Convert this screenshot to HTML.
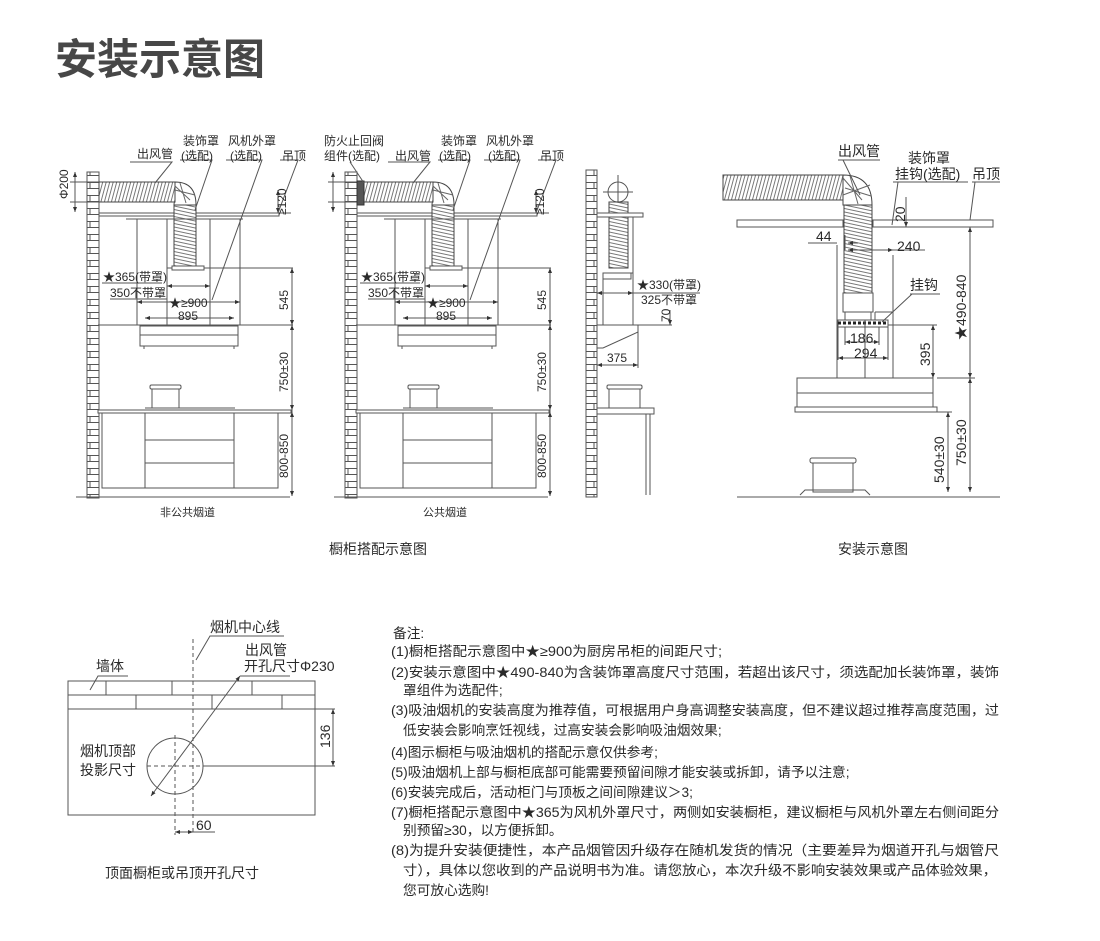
<!DOCTYPE html>
<html><head><meta charset="utf-8">
<style>
html,body{margin:0;padding:0;background:#fff;}
svg{display:block;}
text{font-family:"Liberation Sans","Noto Sans CJK SC",sans-serif;fill:#2a2a2a;}
</style></head>
<body>
<svg width="1100" height="941" viewBox="0 0 1100 941" xmlns="http://www.w3.org/2000/svg">
<defs>
<pattern id="rh" width="3.5" height="10" patternUnits="userSpaceOnUse" patternTransform="skewX(-15)">
<rect width="3.5" height="10" fill="#fff"/><line x1="1" y1="0" x2="1" y2="10" stroke="#666" stroke-width="0.9"/></pattern>
<pattern id="rv" width="10" height="3.5" patternUnits="userSpaceOnUse" patternTransform="skewY(12)">
<rect width="10" height="3.5" fill="#fff"/><line x1="0" y1="1" x2="10" y2="1" stroke="#666" stroke-width="0.9"/></pattern>
<pattern id="brick" width="12" height="13" patternUnits="userSpaceOnUse">
<rect width="12" height="13" fill="#fff"/><line x1="0" y1="0.5" x2="12" y2="0.5" stroke="#555"/><line x1="6" y1="0" x2="6" y2="6.5" stroke="#555"/><line x1="0" y1="6.5" x2="12" y2="6.5" stroke="#555"/></pattern>
<marker id="ar" markerWidth="6" markerHeight="6" refX="5" refY="3" orient="auto-start-reverse" markerUnits="userSpaceOnUse"><path d="M0,1 L5,3 L0,5 z" fill="#333"/></marker>

<g id="cab" fill="none" stroke="#555" stroke-width="1">
 <rect x="87" y="172" width="12" height="326" fill="url(#brick)" stroke="#555"/>
 <rect x="99" y="213" width="180" height="3" fill="#fff"/>
 <rect x="99" y="182" width="76" height="20" fill="url(#rh)" stroke="#444"/>
 <path d="M175,182 Q196,182 196,205 L174,205 Q174,202 175,202 Z" fill="#fff" stroke="#444"/>
 <path d="M175,186 L190,200 M180,183 L186,203 M175,190 L195,195" stroke="#666"/>
 <rect x="174" y="205" width="22" height="63" fill="url(#rv)" stroke="#444"/>
 <line x1="126" y1="219" x2="243" y2="219"/>
 <line x1="137" y1="219" x2="137" y2="325"/>
 <line x1="167" y1="219" x2="167" y2="268"/>
 <line x1="210" y1="219" x2="210" y2="268"/>
 <line x1="240" y1="219" x2="240" y2="325"/>
 <rect x="167" y="268" width="43" height="57" fill="#fff"/>
 <rect x="172" y="266" width="32" height="4" fill="#fff"/>
 <line x1="210" y1="268" x2="293" y2="268"/>
 <line x1="98" y1="325" x2="293" y2="325"/>
 <rect x="140" y="326" width="98" height="9" fill="#fff"/>
 <rect x="140" y="335" width="98" height="11"/>
 <line x1="144" y1="346" x2="144" y2="349"/><line x1="234" y1="346" x2="234" y2="349"/>
 <line x1="292" y1="268" x2="292" y2="496"/>
 <line x1="276" y1="213" x2="291" y2="213"/>
 <line x1="137" y1="302" x2="240" y2="302" marker-start="url(#ar)" marker-end="url(#ar)"/>
 <line x1="145" y1="318" x2="234" y2="318" marker-start="url(#ar)" marker-end="url(#ar)"/>
 <line x1="167" y1="286" x2="210" y2="286" marker-start="url(#ar)" marker-end="url(#ar)"/>
 <line x1="70" y1="182" x2="99" y2="182"/><line x1="70" y1="202" x2="99" y2="202"/>
 <line x1="75" y1="172" x2="75" y2="212" marker-start="url(#ar)" marker-end="url(#ar)"/>
 <line x1="278" y1="190" x2="278" y2="213" marker-start="url(#ar)" marker-end="url(#ar)"/>
 <line x1="292" y1="325" x2="292" y2="410" marker-start="url(#ar)" marker-end="url(#ar)"/>
 <line x1="292" y1="268" x2="292" y2="325" marker-start="url(#ar)" marker-end="url(#ar)"/>
 <line x1="292" y1="412" x2="292" y2="496" marker-start="url(#ar)" marker-end="url(#ar)"/>
 <rect x="152" y="388" width="27" height="20" fill="#fff"/>
 <rect x="150" y="385" width="31" height="4" rx="1.5" fill="#fff"/>
 <line x1="145" y1="408" x2="235" y2="408"/>
 <rect x="98" y="410" width="193" height="3" fill="#fff"/>
 <rect x="102" y="413" width="176" height="75"/>
 <line x1="145" y1="413" x2="145" y2="488"/><line x1="234" y1="413" x2="234" y2="488"/>
 <line x1="145" y1="440" x2="234" y2="440"/><line x1="145" y1="463" x2="234" y2="463"/>
 <line x1="76" y1="497" x2="290" y2="497"/>
 <path d="M130,162 L172,162 L155,183"/>
 <path d="M180,160 L212,160 L195,210"/>
 <path d="M226,160 L262,160 L212,300"/>
 <path d="M280,160 L298,160 L278,213"/>
 <path d="M102,283 L162,283 M110,299 L167,299"/>
</g>
</defs>

<text x="55" y="74" font-size="42" font-weight="bold" style="fill:#474747">安装示意图</text>

<use href="#cab"/>
<use href="#cab" x="258"/>
<rect x="357" y="181" width="7" height="24" fill="#555" stroke="#333"/>
<line x1="350" y1="162" x2="364" y2="183" stroke="#555"/>

<g font-size="12">
<text x="137" y="158">出风管</text>
<text x="183" y="145">装饰罩</text><text x="181" y="160">(选配)</text>
<text x="228" y="145">风机外罩</text><text x="230" y="160">(选配)</text>
<text x="282" y="160">吊顶</text>
<text x="103" y="281">★365(带罩)</text><text x="110" y="297">350不带罩</text>
<text x="169" y="307">★≥900</text><text x="178" y="320">895</text>
<text transform="translate(68,199) rotate(-90)">Φ200</text>
<text transform="translate(286,215) rotate(-90)">≥120</text>
<text transform="translate(288,310) rotate(-90)">545</text>
<text transform="translate(288,392) rotate(-90)">750±30</text>
<text transform="translate(288,478) rotate(-90)">800-850</text>

<text x="324" y="145">防火止回阀</text><text x="324" y="160">组件(选配)</text>
<text x="395" y="160">出风管</text>
<text x="441" y="145">装饰罩</text><text x="439" y="160">(选配)</text>
<text x="486" y="145">风机外罩</text><text x="488" y="160">(选配)</text>
<text x="540" y="160">吊顶</text>
<text x="361" y="281">★365(带罩)</text><text x="368" y="297">350不带罩</text>
<text x="427" y="307">★≥900</text><text x="436" y="320">895</text>
<text transform="translate(544,215) rotate(-90)">≥120</text>
<text transform="translate(546,310) rotate(-90)">545</text>
<text transform="translate(546,392) rotate(-90)">750±30</text>
<text transform="translate(546,478) rotate(-90)">800-850</text>
</g>
<text x="160" y="516" font-size="11">非公共烟道</text>
<text x="423" y="516" font-size="11">公共烟道</text>
<text x="329" y="554" font-size="14">橱柜搭配示意图</text>
<text x="838" y="554" font-size="14">安装示意图</text>

<g fill="none" stroke="#555">
 <rect x="586" y="170" width="11" height="327" fill="url(#brick)"/>
 <circle cx="618" cy="192" r="10" fill="#fff"/>
 <line x1="618" y1="175" x2="618" y2="210"/><line x1="603" y1="192" x2="633" y2="192"/>
 <rect x="609" y="202" width="19" height="66" fill="url(#rv)" stroke="#444"/>
 <rect x="597" y="213" width="46" height="4" fill="#fff"/>
 <line x1="633" y1="217" x2="633" y2="327"/>
 <rect x="603" y="273" width="30" height="52" fill="#fff"/>
 <rect x="603" y="273" width="28" height="6" fill="#fff"/>
 <path d="M597,325 L638,325 L638,332 L603,348 L597,348 Z" fill="#fff"/>
 <line x1="638" y1="325" x2="672" y2="325"/>
 <line x1="670" y1="310" x2="670" y2="325" marker-end="url(#ar)"/>
 <line x1="597" y1="293" x2="633" y2="293" marker-start="url(#ar)" marker-end="url(#ar)"/>
 <line x1="633" y1="293" x2="700" y2="293"/>
 <line x1="597" y1="365" x2="638" y2="365" marker-start="url(#ar)" marker-end="url(#ar)"/>
 <line x1="638" y1="332" x2="638" y2="368"/>
 <rect x="609" y="388" width="31" height="20" fill="#fff"/>
 <rect x="607" y="385" width="35" height="4" rx="1.5" fill="#fff"/>
 <rect x="597" y="408" width="57" height="6" fill="#fff"/>
 <line x1="650" y1="414" x2="650" y2="495"/><line x1="646" y1="414" x2="646" y2="495"/>
</g>
<g font-size="12">
<text x="637" y="289">★330(带罩)</text><text x="641" y="304">325不带罩</text>
<text transform="translate(670,322) rotate(-90)">70</text>
<text x="607" y="362">375</text>
</g>

<g fill="none" stroke="#555">
 <rect x="737" y="220" width="106" height="7" fill="#fff"/>
 <rect x="873" y="220" width="120" height="7" fill="#fff"/>
 <rect x="723" y="175" width="120" height="25" fill="url(#rh)" stroke="#444"/>
 <path d="M843,175 Q872,175 872,205 L843,205 L843,200 Z" fill="#fff" stroke="#444"/>
 <path d="M843,178 L862,200 M850,176 L858,204 M845,188 L871,196 M843,195 L870,185" stroke="#666"/>
 <rect x="844" y="205" width="28" height="88" fill="url(#rv)" stroke="#444"/>
 <rect x="843" y="293" width="30" height="19" fill="#fff"/>
 <path d="M845,312 L845,320 M871,312 L871,320"/>
 <rect x="838" y="320" width="50" height="7" fill="#fff"/>
 <line x1="838" y1="323" x2="888" y2="323" stroke="#222" stroke-width="3" stroke-dasharray="3,2"/>
 <line x1="837" y1="245" x2="837" y2="378"/>
 <line x1="865" y1="320" x2="865" y2="378"/>
 <line x1="893" y1="255" x2="893" y2="378"/>
 <line x1="875" y1="312" x2="893" y2="312"/><line x1="875" y1="312" x2="875" y2="320"/>
 <rect x="797" y="378" width="136" height="15" fill="#fff"/>
 <rect x="797" y="393" width="136" height="14" fill="#fff"/>
 <rect x="795" y="407" width="142" height="5" fill="#fff"/>
 <line x1="888" y1="325" x2="937" y2="325"/>
 <line x1="933" y1="325" x2="933" y2="378" marker-start="url(#ar)" marker-end="url(#ar)"/>
 <line x1="970" y1="227" x2="970" y2="378" marker-start="url(#ar)" marker-end="url(#ar)"/>
 <line x1="970" y1="378" x2="970" y2="492" marker-start="url(#ar)" marker-end="url(#ar)"/>
 <line x1="937" y1="378" x2="975" y2="378"/>
 <line x1="937" y1="412" x2="952" y2="412"/>
 <line x1="948" y1="412" x2="948" y2="492" marker-start="url(#ar)" marker-end="url(#ar)"/>
 <line x1="906" y1="197" x2="906" y2="227" marker-end="url(#ar)"/>
 <line x1="893" y1="227" x2="920" y2="227"/>
 <line x1="837" y1="243" x2="808" y2="243"/>
 <line x1="845" y1="235" x2="845" y2="250"/>
 <line x1="848" y1="243" x2="858" y2="243" marker-start="url(#ar)"/>
 <line x1="848" y1="250" x2="893" y2="250" marker-start="url(#ar)" marker-end="url(#ar)"/>
 <line x1="893" y1="250" x2="925" y2="250"/>
 <line x1="845" y1="327" x2="845" y2="345"/><line x1="879" y1="327" x2="879" y2="345"/>
 <line x1="845" y1="342" x2="879" y2="342" marker-start="url(#ar)" marker-end="url(#ar)"/>
 <line x1="838" y1="327" x2="838" y2="360"/><line x1="888" y1="327" x2="888" y2="360"/>
 <line x1="838" y1="358" x2="888" y2="358" marker-start="url(#ar)" marker-end="url(#ar)"/>
 <rect x="813" y="462" width="40" height="30" fill="#fff"/>
 <rect x="810" y="458" width="46" height="5" rx="2" fill="#fff"/>
 <path d="M800,495 L805,490 L865,490 L870,495"/>
 <line x1="737" y1="497" x2="1000" y2="497"/>
 <path d="M838,160 L880,160 M843,160 L860,195"/>
 <path d="M893,182 L968,182 M898,182 L892,225"/>
 <path d="M972,182 L1000,182 M975,182 L970,220"/>
 <path d="M910,294 L940,294 M912,294 L882,322"/>
</g>
<g font-size="14">
<text x="838" y="156">出风管</text>
<text x="908" y="163">装饰罩</text>
<text x="895" y="179">挂钩(选配)</text>
<text x="972" y="179">吊顶</text>
<text transform="translate(905,222) rotate(-90)">20</text>
<text x="816" y="241">44</text>
<text x="897" y="251">240</text>
<text x="910" y="290">挂钩</text>
<text x="850" y="343">186</text>
<text x="854" y="358">294</text>
<text transform="translate(930,366) rotate(-90)">395</text>
<text transform="translate(966,340) rotate(-90)">★490-840</text>
<text transform="translate(966,466) rotate(-90)">750±30</text>
<text transform="translate(944,483) rotate(-90)">540±30</text>
</g>

<g fill="none" stroke="#555">
 <rect x="68" y="681" width="247" height="134" fill="#fff"/>
 <line x1="68" y1="695" x2="315" y2="695"/>
 <line x1="68" y1="709" x2="315" y2="709"/>
 <line x1="106" y1="681" x2="106" y2="695"/><line x1="172" y1="681" x2="172" y2="695"/><line x1="252" y1="681" x2="252" y2="695"/>
 <line x1="136" y1="695" x2="136" y2="709"/><line x1="212" y1="695" x2="212" y2="709"/><line x1="282" y1="695" x2="282" y2="709"/>
 <circle cx="175" cy="766" r="28"/>
 <line x1="193" y1="639" x2="193" y2="835" stroke-dasharray="4,3"/>
 <line x1="175" y1="735" x2="175" y2="835" stroke-dasharray="4,3"/>
 <line x1="147" y1="766" x2="203" y2="766" stroke-dasharray="4,3"/>
 <line x1="203" y1="766" x2="335" y2="766"/>
 <line x1="315" y1="709" x2="335" y2="709"/>
 <line x1="333" y1="709" x2="333" y2="766" marker-start="url(#ar)" marker-end="url(#ar)"/>
 <line x1="175" y1="832" x2="193" y2="832" marker-start="url(#ar)" marker-end="url(#ar)"/>
 <line x1="193" y1="832" x2="215" y2="832"/>
 <line x1="151" y1="796" x2="240" y2="676" marker-start="url(#ar)" marker-end="url(#ar)"/>
 <path d="M240,676 L290,676"/>
 <path d="M196,660 L210,636 L284,636"/>
 <path d="M90,690 L98,676 L128,676"/>
</g>
<g font-size="14">
<text x="210" y="632">烟机中心线</text>
<text x="245" y="655">出风管</text>
<text x="244" y="671">开孔尺寸Φ230</text>
<text x="96" y="671">墙体</text>
<text x="80" y="756">烟机顶部</text>
<text x="80" y="775">投影尺寸</text>
<text transform="translate(330,748) rotate(-90)">136</text>
<text x="196" y="830">60</text>
<text x="105" y="878">顶面橱柜或吊顶开孔尺寸</text>
</g>

<g font-size="13.7" style="fill:#333">
<text x="393" y="638">备注:</text>
<text x="391" y="656" textLength="331" lengthAdjust="spacingAndGlyphs">(1)橱柜搭配示意图中★≥900为厨房吊柜的间距尺寸;</text>
<text x="391" y="677" textLength="608" lengthAdjust="spacingAndGlyphs">(2)安装示意图中★490-840为含装饰罩高度尺寸范围，若超出该尺寸，须选配加长装饰罩，装饰</text>
<text x="403" y="695">罩组件为选配件;</text>
<text x="391" y="715" textLength="608" lengthAdjust="spacingAndGlyphs">(3)吸油烟机的安装高度为推荐值，可根据用户身高调整安装高度，但不建议超过推荐高度范围，过</text>
<text x="403" y="735">低安装会影响烹饪视线，过高安装会影响吸油烟效果;</text>
<text x="391" y="757">(4)图示橱柜与吸油烟机的搭配示意仅供参考;</text>
<text x="391" y="777">(5)吸油烟机上部与橱柜底部可能需要预留间隙才能安装或拆卸，请予以注意;</text>
<text x="391" y="797">(6)安装完成后，活动柜门与顶板之间间隙建议＞3;</text>
<text x="391" y="817" textLength="608" lengthAdjust="spacingAndGlyphs">(7)橱柜搭配示意图中★365为风机外罩尺寸，两侧如安装橱柜，建议橱柜与风机外罩左右侧间距分</text>
<text x="403" y="835">别预留≥30，以方便拆卸。</text>
<text x="391" y="855" textLength="608" lengthAdjust="spacingAndGlyphs">(8)为提升安装便捷性，本产品烟管因升级存在随机发货的情况（主要差异为烟道开孔与烟管尺</text>
<text x="403" y="875" textLength="594" lengthAdjust="spacingAndGlyphs">寸），具体以您收到的产品说明书为准。请您放心，本次升级不影响安装效果或产品体验效果，</text>
<text x="403" y="895">您可放心选购!</text>
</g>
</svg>
</body></html>
